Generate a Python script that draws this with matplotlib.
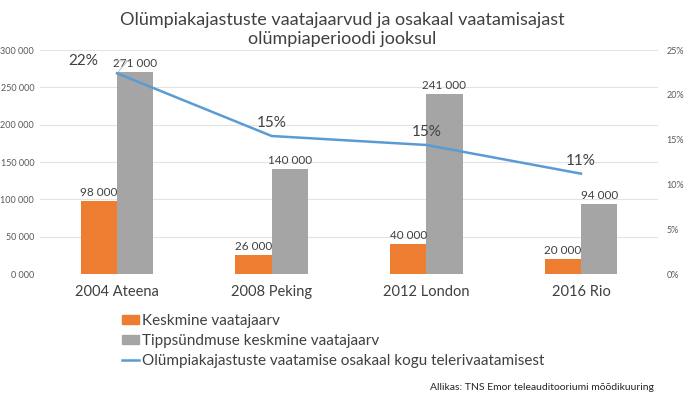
import numpy as np
import matplotlib.pyplot as plt
from matplotlib.patches import Patch
from matplotlib.lines import Line2D

plt.rcParams['font.family'] = ['Lato', 'DejaVu Sans']

aastad = ["2004 Ateena", "2008 Peking", "2012 London", "2016 Rio"]
keskmine = [98000, 26000, 40000, 20000]
tipp = [271000, 140000, 241000, 94000]
osakaal = [22.4, 15.4, 14.4, 11.2]
osakaal_sildid = ["22%", "15%", "15%", "11%"]
vasak_ticks = [0, 50000, 100000, 150000, 200000, 250000, 300000]
parem_ticks = [0, 5, 10, 15, 20, 25]

c_or = '#ED7D31'
c_gr = '#A5A5A5'
c_bl = '#5B9BD5'
c_txt = '#404040'

fig = plt.figure(figsize=(6.85, 4.0), dpi=100)
ax = fig.add_axes([0.058, 0.315, 0.903, 0.56])
ax2 = ax.twinx()

x = np.arange(len(aastad))
w = 0.235
ax.bar(x - w/2, keskmine, w, color=c_or, zorder=3)
ax.bar(x + w/2, tipp, w, color=c_gr, zorder=3)
for i in x:
    ax.text(i - w/2, keskmine[i] + 4000, f"{keskmine[i]//1000} 000", ha='center', va='bottom',
            fontsize=8.5, color=c_txt)
    ax.text(i + w/2, tipp[i] + 4000, f"{tipp[i]//1000} 000", ha='center', va='bottom',
            fontsize=8.5, color=c_txt)

ax.set_xlim(-0.5, len(aastad) - 0.5)
ax.set_ylim(0, 300000)
ax.set_yticks(vasak_ticks)
ax.set_yticklabels([f"{v//1000} 000" for v in vasak_ticks])
ax.set_xticks(x)
ax.set_xticklabels(aastad)
ax.grid(axis='y', color='#e3e3e3', linewidth=0.8, zorder=0)
ax.tick_params(axis='y', length=0, labelsize=6.5, labelcolor='#595959', pad=4)
ax.tick_params(axis='x', length=0, labelsize=10.5, labelcolor=c_txt, pad=8)
for s in ax.spines.values():
    s.set_visible(False)

ax2.plot(x, osakaal, color=c_bl, linewidth=1.8, zorder=4)
ax2.set_ylim(0, 25)
ax2.set_yticks(parem_ticks)
ax2.set_yticklabels([f"{v}%" for v in parem_ticks])
ax2.tick_params(axis='y', length=0, labelsize=6.5, labelcolor='#595959', pad=6)
for s in ax2.spines.values():
    s.set_visible(False)

ax2.annotate(osakaal_sildid[0], xy=(x[0], osakaal[0]), xytext=(-24, 9), textcoords='offset points',
             ha='center', va='center', fontsize=11, color=c_txt,
             arrowprops=dict(arrowstyle='-', color='#bfbfbf', linewidth=0.7,
                             connectionstyle='angle,angleA=0,angleB=50', shrinkA=10, shrinkB=0))
for i in x[1:]:
    ax2.annotate(osakaal_sildid[i], xy=(x[i], osakaal[i]), xytext=(0, 4), textcoords='offset points',
                 ha='center', va='bottom', fontsize=11, color=c_txt)

fig.text(0.5, 0.97, "Olümpiakajastuste vaatajaarvud ja osakaal vaatamisajast\nolümpiaperioodi jooksul",
         ha='center', va='top', fontsize=13, color=c_txt, linespacing=1.25)

handles = [Patch(color=c_or), Patch(color=c_gr), Line2D([], [], color=c_bl, linewidth=1.8)]
labels = ["Keskmine vaatajaarv", "Tippsündmuse keskmine vaatajaarv",
          "Olümpiakajastuste vaatamise osakaal kogu telerivaatamisest"]
fig.legend(handles, labels, loc='upper left', bbox_to_anchor=(0.178, 0.215), frameon=False,
           fontsize=11, labelcolor=c_txt, handlelength=1.1, handleheight=0.5, handletextpad=0.2,
           labelspacing=0.38, borderaxespad=0, borderpad=0)

fig.text(0.955, 0.03, "Allikas: TNS Emor teleauditooriumi mõõdikuuring", ha='right', va='center',
         fontsize=7.5, color='#262626')

fig.savefig('out.png', dpi=100)
